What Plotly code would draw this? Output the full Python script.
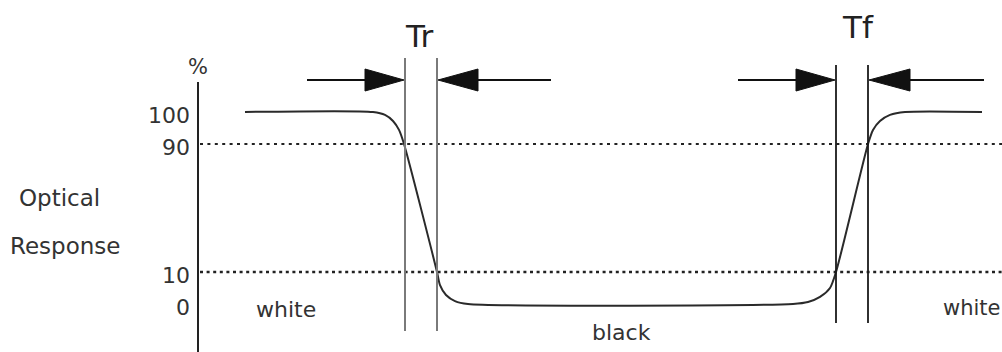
import numpy as np
import plotly.graph_objects as go

# ---- data -------------------------------------------------------------
# waveform: time (arbitrary units) and optical response (%)
t_wave = [245, 373, 385, 393, 399, 404, 437, 440, 446, 455, 468,
          793, 808, 820, 830, 836, 868, 873, 880, 890, 905, 982]
pct_wave = [100, 100, 99.1, 97.2, 94.4, 90, 10, 5.9, 2.8, 0.9, 0,
            0, 0.6, 2.2, 5, 10, 90, 94.4, 97.2, 99.1, 100, 100]

level_vals = [100, 90, 10, 0]
level_text = ["100", "90", "10", "0"]
threshold_vals = [90, 10]

tr_times = [405, 437]   # Tr : 90% -> 10%
tf_times = [836, 868]   # Tf : 10% -> 90%

state_labels = ["white", "black", "white"]

# ---- helpers ----------------------------------------------------------
W, H = 1002, 352


def stretch(p):
    # schematic: the 0-10 and 90-100 bands are drawn enlarged
    return np.interp(p, [0, 10, 90, 100], [-10, 10, 90, 110])


def py(px):  # pixel row -> paper y
    return 1 - px / H


def px_x(px):  # pixel col -> paper x
    return px / W


TXT = "#333333"
FONT = "DejaVu Sans"

fig = go.Figure()

fig.add_trace(go.Scatter(
    x=t_wave, y=stretch(np.array(pct_wave)), mode="lines",
    line=dict(color="#2a2a2a", width=2, shape="spline", smoothing=0.7),
    hoverinfo="skip", showlegend=False))

shapes = []
# vertical axis line
shapes.append(dict(type="line", xref="x", yref="paper", x0=198, x1=198,
                   y0=py(82), y1=0, line=dict(color="#222", width=2)))
# threshold lines
for v, dash, w in zip(threshold_vals, ["3px,4.4px", "3px,3.6px"], [1.8, 2.4]):
    shapes.append(dict(type="line", xref="x", yref="y", x0=200, x1=W,
                       y0=float(stretch(v)), y1=float(stretch(v)),
                       line=dict(color="#222", width=w, dash=dash)))
# Tr / Tf marker lines
for t in tr_times:
    shapes.append(dict(type="line", xref="x", yref="paper", x0=t, x1=t,
                       y0=py(58), y1=py(331), line=dict(color="#7a7a7a", width=2)))
for t in tf_times:
    shapes.append(dict(type="line", xref="x", yref="paper", x0=t, x1=t,
                       y0=py(65), y1=py(323), line=dict(color="#1a1a1a", width=1.8)))


def arrow(tip, direction, head=40, shaft=70, yc=80, hh=11):
    # direction +1: arrow points right (comes from left)
    base = tip - direction * head
    end = base - direction * shaft
    s = [dict(type="line", xref="x", yref="paper", x0=end, x1=base,
              y0=py(yc), y1=py(yc), line=dict(color="#111", width=2))]
    path = (f"M {base},{py(yc - hh)} L {tip},{py(yc)} "
            f"L {base},{py(yc + hh)} Z")
    s.append(dict(type="path", xref="x", yref="paper", path=path,
                  fillcolor="#111", line=dict(color="#111", width=1)))
    return s


shapes += arrow(tr_times[0] - 1, +1, head=39, shaft=58)
shapes += arrow(tr_times[1] + 1, -1, head=40, shaft=73)
shapes += arrow(tf_times[0] - 1, +1, head=39, shaft=58)
shapes += arrow(tf_times[1] + 1, -1, head=41, shaft=74)

ann = []


def label(x, y, text, size=22, xanchor="center", color=TXT):
    ann.append(dict(x=px_x(x), y=py(y), xref="paper", yref="paper", text=text,
                    showarrow=False, xanchor=xanchor, yanchor="middle",
                    font=dict(family=FONT, size=size, color=color)))


label(419, 36, "Tr", size=31, color="#222")
label(858, 27, "Tf", size=31, color="#222")
label(198, 67, "%", size=21)
label(59, 198, "Optical", size=23)
label(65, 246, "Response", size=23)
label(286, 309, state_labels[0])
label(621, 332, state_labels[1])
label(941, 308, state_labels[2], size=21, xanchor="left")

fig.update_layout(
    width=W, height=H, margin=dict(l=0, r=0, t=0, b=0),
    paper_bgcolor="white", plot_bgcolor="white",
    shapes=shapes, annotations=ann, showlegend=False,
    xaxis=dict(range=[0, W], visible=False, fixedrange=True),
    yaxis=dict(range=[-40, 180], anchor="free", position=198 / W,
               showgrid=False, zeroline=False, showline=False, ticks="",
               tickvals=list(stretch(np.array(level_vals)) - 2.2),
               ticktext=level_text, automargin=False, ticklabelstandoff=8,
               fixedrange=True,
               tickfont=dict(family=FONT, size=22, color=TXT)),
)

fig.write_html("out.html",
               config={"displayModeBar": False, "staticPlot": True},
               post_script="document.body.style.margin='0px';"
                           "document.body.style.padding='0px';"
                           "document.body.style.overflow='hidden';")
